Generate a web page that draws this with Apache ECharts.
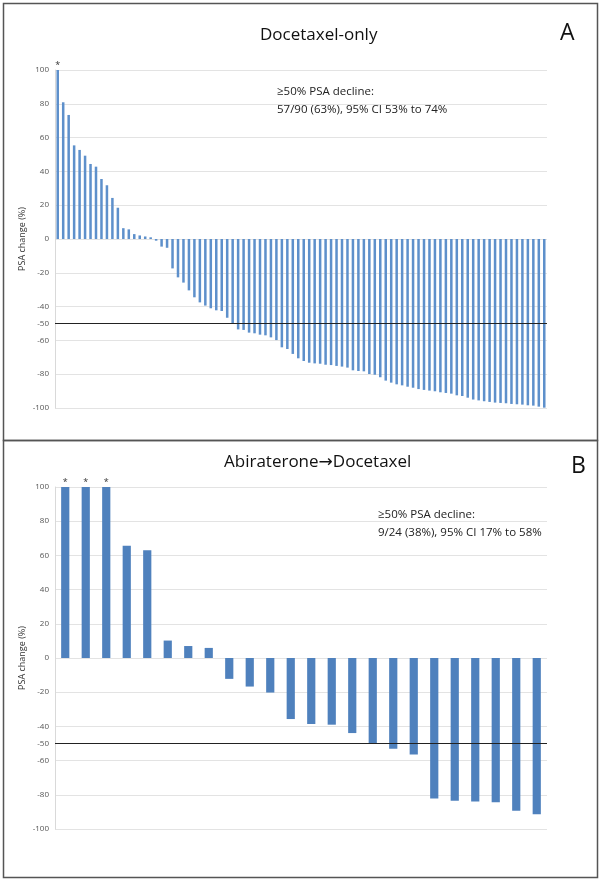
<!DOCTYPE html>
<html><head><meta charset="utf-8">
<script src="https://cdn.jsdelivr.net/npm/echarts@6/dist/echarts.min.js"></script>
<style>html,body{margin:0;padding:0;background:#fff}#c{width:602px;height:882px}</style>
</head><body><div id="c"></div>
<script>
// Panel A: Docetaxel-only (90 patients, sorted)
const valuesA = [100, 80.9, 73.4, 55.4, 52.7, 49.3, 44.4, 42.8, 35.5, 31.8,
  24.3, 18.5, 6.4, 5.7, 2.9, 2.1, 1.5, 1.0, -1.0, -4.5,
  -5.2, -17.4, -22.7, -25.8, -30.4, -34.5, -37.5, -39.4, -41.0, -42.2,
  -42.6, -46.6, -49.8, -53.5, -53.8, -55.4, -55.8, -56.6, -57.0, -58.2,
  -59.8, -64.1, -65.1, -68.0, -70.6, -72.2, -73.2, -73.6, -73.8, -74.4,
  -74.6, -75.1, -75.5, -76.1, -77.7, -78.1, -78.3, -79.9, -80.3, -81.8,
  -83.8, -85.0, -86.0, -86.6, -87.4, -88.0, -88.8, -89.3, -89.7, -90.1,
  -90.7, -91.1, -91.5, -92.5, -92.9, -93.9, -95.0, -95.5, -96.0, -96.4,
  -96.8, -97.0, -97.2, -97.6, -97.8, -98.0, -98.4, -98.6, -99.2, -99.8];
const cappedA = [0];

// Panel B: Abiraterone -> Docetaxel (24 patients, sorted)
const valuesB = [100, 100, 100, 65.6, 63.0, 10.2, 7.0, 5.9, -12.2, -16.7,
  -20.2, -35.7, -38.6, -39.0, -43.9, -50.0, -53.0, -56.5, -82.2, -83.5,
  -83.9, -84.3, -89.4, -91.4];
const cappedB = [0, 1, 2];

const yTickLabels = [100, 80, 60, 40, 20, 0, -20, -40, -50, -60, -80, -100];
const thresholdLine = -50;

const titleA = 'Docetaxel-only';
const titleB = 'Abiraterone\u2192Docetaxel';
const noteA = ['\u226550% PSA decline:', '57/90 (63%), 95% CI 53% to 74%'];
const noteB = ['\u226550% PSA decline:', '9/24 (38%), 95% CI 17% to 58%'];
const yName = 'PSA change (%)';

const catsA = valuesA.map((_, i) => String(i + 1));
const catsB = valuesB.map((_, i) => String(i + 1));

const FONT = '"Open Sans", "DejaVu Sans", sans-serif';

function mkData(vals, capped) {
  return vals.map((v, i) => capped.includes(i)
    ? { value: v, label: { show: true, position: 'top', distance: 0, formatter: '*', fontSize: 9, color: '#333', fontFamily: FONT } }
    : v);
}

function yAxisCfg(gi) {
  return {
    gridIndex: gi, type: 'value', min: -100, max: 100, interval: 20,
    axisLine: { show: true, lineStyle: { color: '#d9d9d9', width: 1 } },
    axisTick: { show: false },
    axisLabel: { customValues: yTickLabels, fontSize: 8, color: '#555', margin: 6, fontFamily: FONT },
    splitLine: { show: true, lineStyle: { color: '#e3e3e3', width: 1 } }
  };
}
function xAxisCfg(gi, cats) {
  return {
    gridIndex: gi, type: 'category', data: cats,
    axisLine: { show: false }, axisTick: { show: false }, axisLabel: { show: false },
    splitLine: { show: false }
  };
}
function markLineCfg() {
  return {
    silent: true, symbol: 'none', label: { show: false },
    lineStyle: { color: '#222', width: 1.2, type: 'solid' },
    data: [{ yAxis: thresholdLine }]
  };
}
function yNameText(cy) {
  return { type: 'text', x: 22, y: cy, rotation: Math.PI / 2,
    style: { text: yName, fontSize: 9, fill: '#333', fontFamily: FONT, align: 'center', verticalAlign: 'middle' } };
}

const chart = echarts.init(document.getElementById('c'), null, { renderer: 'canvas' });
chart.setOption({
  animation: false,
  backgroundColor: '#fff',
  grid: [
    { left: 55, width: 492, top: 70, height: 338 },
    { left: 55, width: 492, top: 487, height: 342 }
  ],
  xAxis: [xAxisCfg(0, catsA), xAxisCfg(1, catsB)],
  yAxis: [yAxisCfg(0), yAxisCfg(1)],
  series: [
    { type: 'bar', xAxisIndex: 0, yAxisIndex: 0, data: mkData(valuesA, cappedA),
      barWidth: '46%', itemStyle: { color: '#5e90cb' }, markLine: markLineCfg() },
    { type: 'bar', xAxisIndex: 1, yAxisIndex: 1, data: mkData(valuesB, cappedB),
      barWidth: '40%', itemStyle: { color: '#4f81bd' }, markLine: markLineCfg() }
  ],
  graphic: [
    { type: 'rect', shape: { x: 3.5, y: 3.5, width: 594, height: 437 }, style: { fill: 'none', stroke: '#555', lineWidth: 1.5 }, z: 100 },
    { type: 'rect', shape: { x: 3.5, y: 440.5, width: 594, height: 437 }, style: { fill: 'none', stroke: '#555', lineWidth: 1.5 }, z: 100 },
    { type: 'text', left: 260, top: 27, style: { text: titleA, fontSize: 17, fill: '#111', fontFamily: FONT } },
    { type: 'text', left: 560, top: 22, style: { text: 'A', fontSize: 23, fill: '#111', fontFamily: FONT } },
    { type: 'text', left: 277, top: 83, style: { text: noteA.join('\n'), fontSize: 11.5, lineHeight: 18, fill: '#222', fontFamily: FONT } },
    { type: 'text', left: 224, top: 454, style: { text: titleB, fontSize: 17, fill: '#111', fontFamily: FONT } },
    { type: 'text', left: 571, top: 455, style: { text: 'B', fontSize: 23, fill: '#111', fontFamily: FONT } },
    { type: 'text', left: 378, top: 506, style: { text: noteB.join('\n'), fontSize: 11.5, lineHeight: 18, fill: '#222', fontFamily: FONT } },
    yNameText(239),
    yNameText(658)
  ]
});
</script></body></html>
